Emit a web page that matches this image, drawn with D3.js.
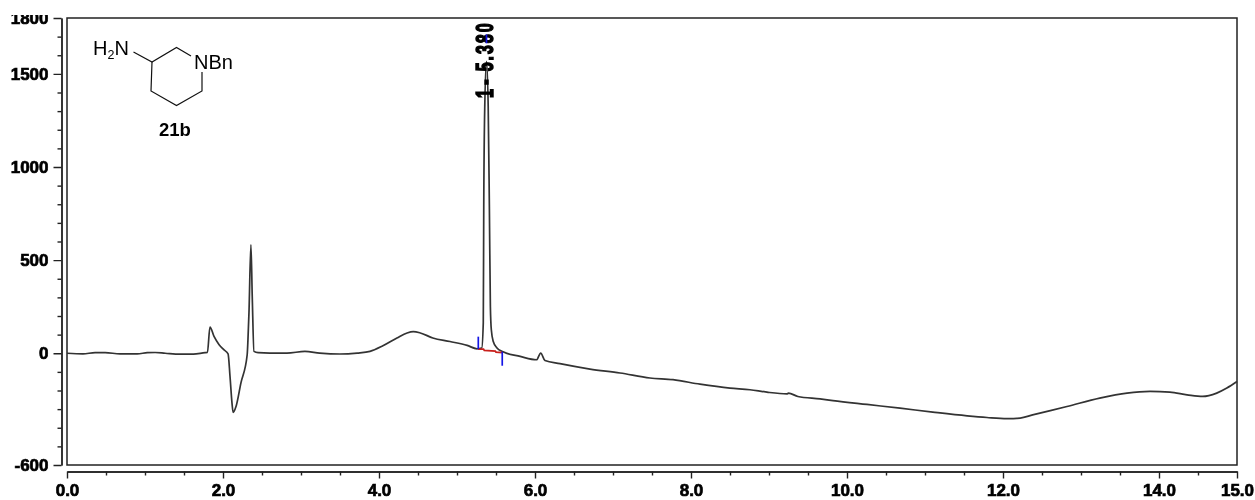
<!DOCTYPE html>
<html>
<head>
<meta charset="utf-8">
<script src="https://cdn.jsdelivr.net/npm/d3@7/dist/d3.min.js"></script>
<style>
    html, body { margin: 0; padding: 0; background: #fff; }
    svg { display: block; filter: blur(0.4px); }
    text { font-family: "Liberation Sans", Arial, sans-serif; fill: #000; }
    .axis path, .axis line { stroke: #222; stroke-width: 1.4; }
    .axis text { font-weight: bold; stroke: #000; stroke-width: 0.7; }
    .peak-label { font-weight: bold; stroke: #000; stroke-width: 1; }
</style>
</head>
<body>
<div id="chart"></div>
<script>
// retention time (min) and detector signal
var times = [0, 0.205, 0.36, 0.49, 0.68, 0.9, 1.03, 1.13, 1.26, 1.45, 1.62, 1.77, 1.8, 1.833, 1.885, 1.95, 2.01, 2.065,
    2.09, 2.115, 2.13, 2.167, 2.23, 2.31, 2.32, 2.333, 2.358, 2.375, 2.397, 2.45, 2.6, 2.82, 3.05, 3.24, 3.5, 3.72,
    3.885, 4.05, 4.23, 4.36, 4.44, 4.53, 4.69, 4.91, 5.13, 5.256, 5.317, 5.337, 5.343, 5.356, 5.378, 5.4, 5.415,
    5.428, 5.44, 5.465, 5.51, 5.59, 5.81, 6.02, 6.073, 6.128, 6.32, 6.705, 7.09, 7.474, 7.77, 8.115, 8.5, 8.756,
    8.974, 9.23, 9.25, 9.37, 9.654, 9.82, 10.256, 10.68, 11.1, 11.54, 11.795, 12.05, 12.22, 12.38, 12.82, 13.24,
    13.59, 13.885, 14.14, 14.36, 14.56, 14.74, 14.87, 15];
var signal = [0, -3, 3, 3, -3, -3, 3, 4, 0, -5, -5, 3, 4, 141, 90, 46, 19, -3,
    -125, -266, -318, -286, -159, -8, 73, 218, 583, 304, 10, 3, 1, 1, 10, 1, -4, 1,
    10, 40, 82, 109, 116, 109, 82, 63, 42, 24, 28, 164, 788, 1325, 1567, 1325, 788,
    250, 126, 63, 30, 8, -17, -35, 1, -39, -56, -85, -106, -133, -142, -166, -187, -196,
    -209, -218, -214, -232, -245, -254, -275, -295, -316, -336, -345, -351, -348, -331, -286, -241,
    -214, -205, -209, -223, -232, -214, -187, -152];

// integration baseline and its markers
var baselineTimes = [5.27, 5.34, 5.35, 5.49, 5.5, 5.58];
var baselineValues = [22, 22, 15, 12, 6, 4];
var markerTimes = [5.273, 5.58, 5.378];
var markerFrom = [89, 8, 1712];
var markerTo = [22, -67, 1664];

var xMajor = [0, 2, 4, 6, 8, 10, 12, 14, 15];
var xMinor = [0.5, 1, 1.5, 2.5, 3, 3.5, 4.5, 5, 5.5, 6.5, 7, 7.5, 8.5, 9, 9.5, 10.5, 11, 11.5, 12.5, 13, 13.5, 14.5];
var yMajor = [1800, 1500, 1000, 500, 0, -600];
var yMinor = [1700, 1600, 1400, 1300, 1200, 1100, 900, 800, 700, 600, 400, 300, 200, 100, -100, -200, -300, -400, -500];

// structure inset, in picture coordinates
var ringPoints = [[133.5, 52], [152, 62], [176.5, 47.5], [191, 56]];
var ringPoints2 = [[152, 62], [151, 91], [176.5, 105.5], [202, 91], [202, 72]];

var width = 1255, height = 500;
var margin = {top: 18, right: 18, bottom: 35, left: 67};

var x = d3.scaleLinear().domain([0, 15]).range([margin.left, width - margin.right]);
var y = d3.scaleLinear().domain([-600, 1800]).range([height - margin.bottom, margin.top]);

var svg = d3.select("#chart").append("svg")
    .attr("width", width)
    .attr("height", height);

// the top tick label is cut off in the source picture
svg.append("defs").append("clipPath").attr("id", "top-clip")
    .append("rect")
    .attr("x", -100).attr("y", 15)
    .attr("width", width).attr("height", height - 15);

// plot frame
svg.append("rect")
    .attr("x", x(0)).attr("y", y(1800))
    .attr("width", x(15) - x(0)).attr("height", y(-600) - y(1800))
    .attr("fill", "none").attr("stroke", "#222").attr("stroke-width", 1.5);

// axes sit a few pixels away from the frame
var yAxisG = svg.append("g").attr("class", "axis").attr("clip-path", "url(#top-clip)")
    .attr("transform", "translate(61.5,0)");
yAxisG.call(d3.axisLeft(y).tickValues(yMajor).tickSize(8).tickPadding(5).tickSizeOuter(0)
    .tickFormat(function (d) { return d; }));
yAxisG.selectAll("text").style("font-size", "17px");
var yMinorG = svg.append("g").attr("class", "axis").attr("transform", "translate(61.5,0)");
yMinorG.call(d3.axisLeft(y).tickValues(yMinor).tickSize(4).tickSizeOuter(0).tickFormat(""));

var xAxisG = svg.append("g").attr("class", "axis").attr("transform", "translate(0,471.5)");
xAxisG.call(d3.axisBottom(x).tickValues(xMajor).tickSize(7).tickPadding(5).tickSizeOuter(0)
    .tickFormat(d3.format(".1f")));
xAxisG.selectAll("text").style("font-size", "17px");
var xMinorG = svg.append("g").attr("class", "axis").attr("transform", "translate(0,471.5)");
xMinorG.call(d3.axisBottom(x).tickValues(xMinor).tickSize(4).tickSizeOuter(0).tickFormat(""));

// trace
var line = d3.line()
    .curve(d3.curveMonotoneX)
    .x(function (d) { return x(d); })
    .y(function (d, i) { return y(signal[i]); });
svg.append("path")
    .attr("d", line(times))
    .attr("fill", "none").attr("stroke", "#333").attr("stroke-width", 1.7)
    .attr("stroke-linejoin", "round");

// peak label, squeezed and overprinted as the instrument software does it
var peakLabel = svg.append("text")
    .attr("class", "peak-label")
    .attr("transform", "translate(" + (x(5.38) + 6.5) + ",98) rotate(-90) scale(1,1.48)")
    .style("font-size", "16px");
peakLabel.append("tspan").text("1 -");
peakLabel.append("tspan").attr("dx", 8).style("letter-spacing", "2px").text("5.380");

// baseline and markers
var baselineLine = d3.line()
    .x(function (d) { return x(d); })
    .y(function (d, i) { return y(baselineValues[i]); });
svg.append("path")
    .attr("d", baselineLine(baselineTimes))
    .attr("fill", "none").attr("stroke", "#c8201c").attr("stroke-width", 1.8);
svg.selectAll(".marker").data(markerTimes).enter().append("line")
    .attr("class", "marker")
    .attr("x1", function (d) { return x(d); })
    .attr("x2", function (d) { return x(d); })
    .attr("y1", function (d, i) { return y(markerFrom[i]); })
    .attr("y2", function (d, i) { return y(markerTo[i]); })
    .attr("stroke", "#1414e6").attr("stroke-width", 1.7);

// structure
var bond = d3.line();
[ringPoints, ringPoints2].forEach(function (pts) {
    svg.append("path").attr("d", bond(pts))
        .attr("fill", "none").attr("stroke", "#111").attr("stroke-width", 1.2);
});
var amine = svg.append("text").attr("x", 93).attr("y", 55).style("font-size", "20px");
amine.append("tspan").text("H");
amine.append("tspan").attr("dy", 4).style("font-size", "12.5px").text("2");
amine.append("tspan").attr("dy", -4).text("N");
svg.append("text").attr("x", 194).attr("y", 69).style("font-size", "20px").text("NBn");
svg.append("text").attr("x", 175).attr("y", 136).attr("text-anchor", "middle")
    .style("font-size", "18.5px").style("font-weight", "bold").text("21b");
</script>
</body>
</html>
